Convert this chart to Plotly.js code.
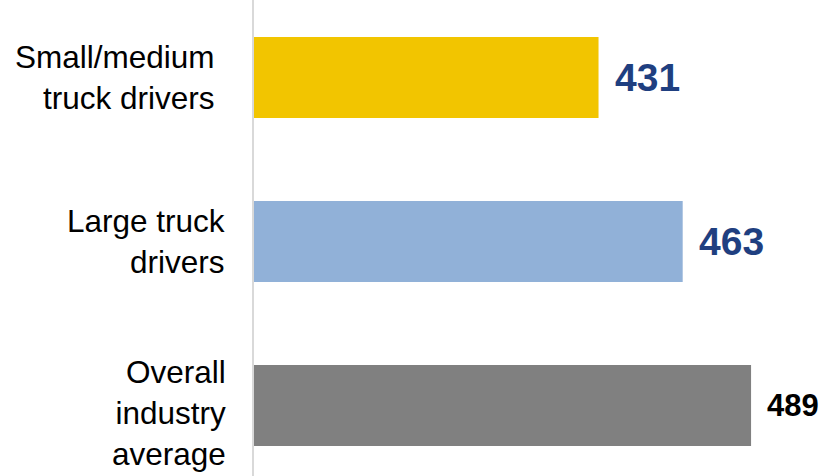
<!DOCTYPE html>
<html>
<head>
<meta charset="utf-8">
<script src="https://cdn.plot.ly/plotly-3.0.1.min.js"></script>
<style>html,body{margin:0;padding:0;background:#fff;}#chart{width:823px;height:476px;}</style>
</head>
<body>
<div id="chart"></div>
<script>
const categories = ["Small/medium<br>truck drivers", "Large truck<br>drivers", "Overall<br>industry<br>average"];
const values = [431, 463, 489];
const valueLabels = ["431", "463", "489"];

const barColors = ["#F2C500", "#91B1D8", "#808080"];
const labelColors = ["#1F3F80", "#1F3F80", "#000000"];
const labelSizes = [39, 39, 31];
const catShift = [-37, -27, -26];
const catYShift = [0, 0, -8];

const trace = {
  type: "bar",
  orientation: "h",
  x: values,
  y: categories,
  marker: {color: barColors},
  hoverinfo: "none"
};

const annotations = [];
categories.forEach((c, i) => {
  annotations.push({
    xref: "paper", yref: "y", x: 0, y: c,
    text: c, showarrow: false, xanchor: "right", yanchor: "middle",
    align: "right", xshift: catShift[i], yshift: catYShift[i],
    font: {family: "Liberation Sans, Arial, sans-serif", size: 31.5, color: "#000"}
  });
  annotations.push({
    xref: "x", yref: "y", x: values[i], y: c,
    text: "<b>" + valueLabels[i] + "</b>", showarrow: false,
    xanchor: "left", yanchor: "middle", xshift: 14,
    font: {family: "Liberation Sans, Arial, sans-serif", size: labelSizes[i], color: labelColors[i]}
  });
});

const layout = {
  width: 823, height: 476,
  margin: {l: 254, r: 43, t: 0, b: 0},
  paper_bgcolor: "#fff", plot_bgcolor: "#fff",
  bargap: 0.506,
  showlegend: false,
  xaxis: {range: [300, 500], visible: false, fixedrange: true},
  yaxis: {
    type: "category", range: [2.43, -0.473], autorange: false,
    showticklabels: false, ticks: "", showgrid: false, zeroline: false,
    showline: true, linecolor: "#D9D9D9", linewidth: 2, fixedrange: true
  },
  annotations: annotations
};

Plotly.newPlot("chart", [trace], layout, {displayModeBar: false, staticPlot: true});
</script>
</body>
</html>
